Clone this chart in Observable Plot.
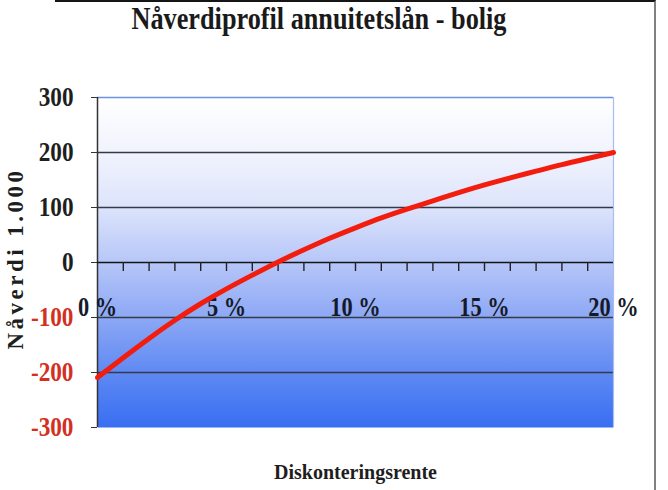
<!DOCTYPE html>
<html>
<head>
<meta charset="utf-8">
<script src="https://cdn.jsdelivr.net/npm/d3@7"></script>
<script src="https://cdn.jsdelivr.net/npm/@observablehq/plot@0.6"></script>
<style>
  html, body { margin: 0; padding: 0; background: #fff; }
  #wrap { position: relative; width: 668px; height: 490px; overflow: hidden; background: #fff; }
  #frameLines { position: absolute; left: 55px; top: 0; width: 601px; height: 490px;
    border-top: 2px solid #151515; border-right: 2px solid #808080; box-sizing: border-box; pointer-events: none; z-index: 2; }
  #title { position: absolute; left: 0; top: 1px; width: 638px; height: 38px; text-align: center;
    font-family: "Liberation Serif", "Times New Roman", serif; font-weight: bold; font-size: 32px; line-height: 34px;
    color: #1a1a1a; transform: scaleX(0.82); transform-origin: 319px 0; white-space: nowrap; }
  #chart { position: absolute; left: 0; top: 40px; }
</style>
</head>
<body>
<div id="wrap">
  <div id="title">Nåverdiprofil annuitetslån - bolig</div>
  <div id="chart"></div>
  <div id="frameLines"></div>
</div>
<script>
// ---- data ----
const rates = [0, 1, 2, 3, 4, 5, 6, 7, 8, 9, 10, 11, 12, 13, 14, 15, 16, 17, 18, 19, 20];
const npv = [-209, -173, -138, -105, -75, -48, -23, 1, 23, 44, 63, 81, 97, 112, 127, 141, 154, 166, 178, 189, 200];
const xTickValues = [0, 5, 10, 15, 20];
const xTickLabels = ["0 %", "5 %", "10 %", "15 %", "20 %"];
const xMinorTicks = [1, 2, 3, 4, 5, 6, 7, 8, 9, 10, 11, 12, 13, 14, 15, 16, 17, 18, 19];
const yTicksPos = [0, 100, 200, 300];
const yTicksNeg = [-100, -200, -300];
const gridValues = [-200, -100, 100, 200];
const yTitle = "Nåverdi 1.000";
const xTitle = "Diskonteringsrente";

const table = rates.map((r, i) => ({rate: r, value: npv[i]}));
const xLabelData = xTickValues.map((v, i) => ({v, label: xTickLabels[i]}));

const serif = "'Liberation Serif', 'Times New Roman', serif";

const svg = Plot.plot({
  width: 668,
  height: 450,
  marginLeft: 97,
  marginRight: 55,
  marginTop: 57,
  marginBottom: 63,
  style: {fontFamily: serif, fontWeight: "bold", fontSize: "28px", background: "transparent", overflow: "visible"},
  x: {domain: [0, 20], axis: null},
  y: {domain: [-300, 300], axis: null},
  marks: [
    Plot.frame({fill: "url(#bgGrad)", stroke: "none", ariaLabel: "bgframe"}),
    Plot.ruleY(gridValues, {stroke: "#333a48", strokeWidth: 1.4}),
    Plot.ruleY([300], {stroke: "#6d92e4", strokeWidth: 1.6}),
    Plot.ruleX([20], {stroke: "#a8bdf0", strokeWidth: 1.2}),
    Plot.ruleX([0], {stroke: "#333", strokeWidth: 1.5}),
    Plot.ruleY([0], {stroke: "#151515", strokeWidth: 1.6}),
    Plot.ruleX(xMinorTicks, {x: d => d, y1: 0, y2: 0, insetBottom: -9, stroke: "#222", strokeWidth: 1.4}),
    Plot.axisY(yTicksPos, {anchor: "left", tickSize: 6, tickPadding: 18, stroke: "#333", fill: "#1e1e1e", fontSize: 28, fontWeight: "bold", tickFormat: d => String(d), label: null}),
    Plot.axisY(yTicksNeg, {anchor: "left", tickSize: 6, tickPadding: 18, stroke: "#333", fill: "#d3301f", fontSize: 28, fontWeight: "bold", tickFormat: d => String(d), label: null}),
    Plot.text(xLabelData, {x: "v", y: 0, text: "label", dy: 45, fontSize: 28, fontWeight: "bold", fill: "#151a2a"}),
    Plot.line(table, {x: "rate", y: "value", stroke: "#f31d0e", strokeWidth: 5, curve: "natural", strokeLinecap: "round"}),
    Plot.text([yTitle], {text: d => d, frameAnchor: "left", textAnchor: "middle", lineAnchor: "middle", rotate: -90, dx: -82, dy: -4, fontSize: 23, fontWeight: "bold", fill: "#1e1e1e"}),
    Plot.text([xTitle], {text: d => d, frameAnchor: "bottom", textAnchor: "middle", lineAnchor: "middle", dy: 45, fontSize: 20, fontWeight: "bold", fill: "#1e1e1e"})
  ]
});

// gradient background definition
const sel = d3.select(svg);
const defs = sel.insert("defs", ":first-child");
const grad = defs.append("linearGradient").attr("id", "bgGrad")
  .attr("x1", 0).attr("y1", 0).attr("x2", 0).attr("y2", 1);
[
  [0, "#ffffff"], [0.17, "#f1f3fd"], [0.33, "#dde4fb"], [0.5, "#b6c6f8"],
  [0.67, "#8ca7f5"], [0.83, "#608af3"], [1, "#386ef2"]
].forEach(([o, c]) => grad.append("stop").attr("offset", o).attr("stop-color", c));
svg.querySelectorAll('[aria-label="bgframe"], [aria-label="frame"]').forEach(el => {
  if (el.tagName.toLowerCase() === "rect") el.setAttribute("fill", "url(#bgGrad)");
  el.querySelectorAll("rect").forEach(r => r.setAttribute("fill", "url(#bgGrad)"));
});

// condensed look for the bold serif tick labels
const yTickStrings = new Set([...yTicksPos, ...yTicksNeg].map(String));
const xTickStrings = new Set(xTickLabels);
svg.querySelectorAll("text").forEach(t => {
  const s = t.textContent;
  let sx = null;
  if (yTickStrings.has(s)) sx = 0.83;
  else if (xTickStrings.has(s)) sx = 0.8;
  if (sx !== null) {
    const tr = t.getAttribute("transform") || "";
    t.setAttribute("transform", (tr + ` scale(${sx},1)`).trim());
  }
  if (s === yTitle) t.style.letterSpacing = "3.5px";
  if (s === xTitle) t.style.letterSpacing = "0px";
});

document.getElementById("chart").appendChild(svg);
</script>
</body>
</html>
